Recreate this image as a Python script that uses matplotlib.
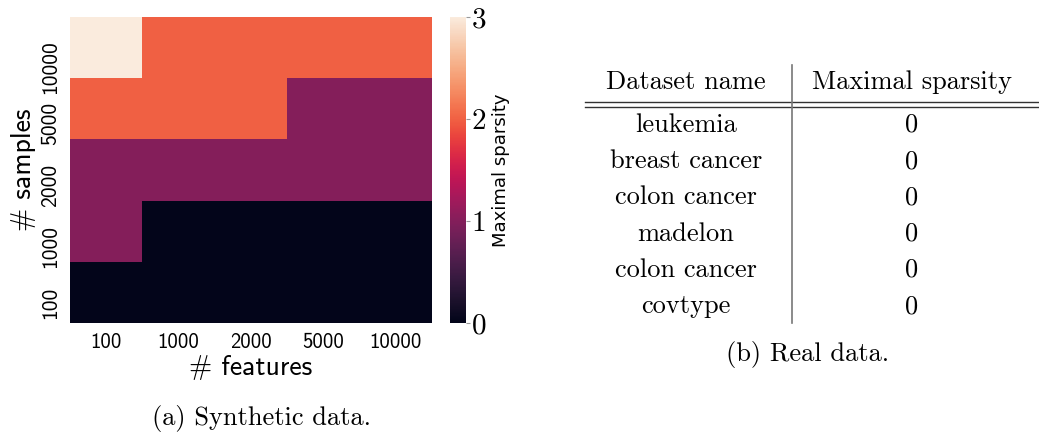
import numpy as np
import seaborn as sns
import matplotlib.pyplot as plt
from matplotlib.transforms import offset_copy

# heatmap data (rows = samples, top to bottom)
n_features = ['100', '1000', '2000', '5000', '10000']
n_samples = ['10000', '5000', '2000', '1000', '100']
sparsity = np.array([
    [3, 2, 2, 2, 2],
    [2, 2, 2, 1, 1],
    [1, 1, 1, 1, 1],
    [1, 0, 0, 0, 0],
    [0, 0, 0, 0, 0],
])

# table data
dataset_names = ['leukemia', 'breast cancer', 'colon cancer', 'madelon', 'colon cancer', 'covtype']
dataset_sparsity = [0, 0, 0, 0, 0, 0]

W, H = 1039, 434
serif = ['cmr10', 'DejaVu Serif']
sans = ['cmss10', 'DejaVu Sans']
plt.rcParams['axes.formatter.use_mathtext'] = True

fig = plt.figure(figsize=(W / 100, H / 100), dpi=100)

def box(x0, y0, x1, y1):
    return [x0 / W, 1 - y1 / H, (x1 - x0) / W, (y1 - y0) / H]

ax = fig.add_axes(box(70, 17, 432, 323))
cax = fig.add_axes(box(450, 17, 466, 323))

sns.heatmap(sparsity, ax=ax, cbar_ax=cax, cmap='rocket', vmin=0, vmax=3,
            xticklabels=n_features, yticklabels=n_samples)
ax.tick_params(length=0, pad=7)
for t in ax.get_xticklabels():
    t.set_fontfamily(sans)
    t.set_fontsize(15)
for t in ax.get_yticklabels():
    t.set_fontfamily(sans)
    t.set_fontsize(15.5)
    t.set_rotation(90)
    t.set_va('center')
    # labels in the original sit a bit below the row centres
    shift = 5 * len(t.get_text()) - 5
    t.set_transform(offset_copy(t.get_transform(), fig=fig, x=0, y=-shift * 0.72, units='points'))
ax.set_xlabel('# features', fontfamily=sans, fontsize=20, labelpad=2)
ax.set_ylabel('# samples', fontfamily=sans, fontsize=20, labelpad=4)

cax.set_yticks([0, 1, 2, 3])
cax.set_yticklabels(['0', '1', '2', '3'], fontfamily=serif, fontsize=21)
cax.tick_params(length=3, width=0.8, color='#999999', pad=1)
cax.set_ylabel('Maximal sparsity', fontsize=13, labelpad=4)
for s in cax.spines.values():
    s.set_visible(False)

fig.text(262 / W, 1 - 418 / H, '(a) Synthetic data.', fontfamily=serif,
         fontsize=19, ha='center', va='center')

# table
tax = fig.add_axes(box(560, 50, 1039, 340))
tax.set_xlim(560, 1039)
tax.set_ylim(340, 50)
tax.axis('off')
col1, col2 = 686, 912
fs = 19
tax.text(col1, 82, 'Dataset name', fontfamily=serif, fontsize=fs, ha='center', va='center')
tax.text(col2, 82, 'Maximal sparsity', fontfamily=serif, fontsize=fs, ha='center', va='center')
tax.plot([585, 1039], [101.7, 101.7], color='#333333', lw=1.0, clip_on=False)
tax.plot([585, 1039], [107.3, 107.3], color='#333333', lw=1.0, clip_on=False)
tax.plot([792.5, 792.5], [65, 323], color='#777777', lw=1.2)
row_y = 125
for name, val in zip(dataset_names, dataset_sparsity):
    tax.text(col1, row_y, name, fontfamily=serif, fontsize=fs, ha='center', va='center')
    tax.text(col2, row_y, str(val), fontfamily=serif, fontsize=fs, ha='center', va='center')
    row_y += 36.25

fig.text(808 / W, 1 - 355 / H, '(b) Real data.', fontfamily=serif,
         fontsize=19, ha='center', va='center')

plt.savefig('out.png', dpi=100)
